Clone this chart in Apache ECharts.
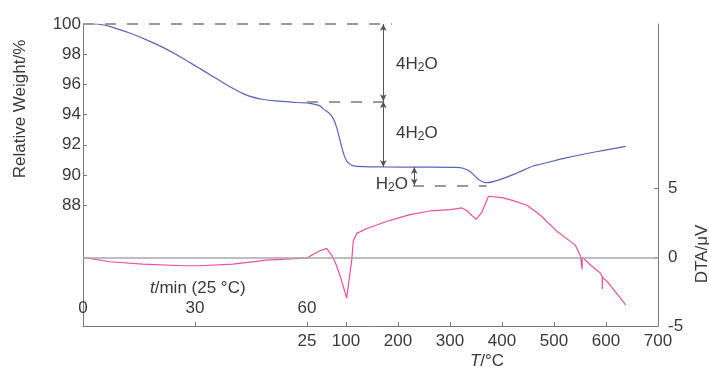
<!DOCTYPE html>
<html>
<head>
<meta charset="utf-8">
<script src="https://cdn.jsdelivr.net/npm/echarts@6/dist/echarts.min.js"></script>
<style>
  html, body { margin: 0; padding: 0; background: #fff; }
  #main { width: 709px; height: 370px; }
</style>
</head>
<body>
<div id="main"></div>
<script>
// isothermal hold at 25 C (t / min)
let holdTime = [0, 3.6, 8, 12.5, 17, 21.4, 25.9, 30.4, 34.9, 39.3, 43.8, 48.3, 52.7, 57.2, 60];
let holdWeight = [100, 100, 99.78, 99.4, 98.95, 98.45, 97.85, 97.18, 96.51, 95.85, 95.29, 95.0, 94.89, 94.8, 94.78];
let holdDtaTime = [0, 7.2, 16, 26.8, 31.3, 40.2, 49.2, 58.1, 60];
let holdDta = [0, -0.32, -0.49, -0.61, -0.61, -0.49, -0.2, -0.07, -0.05];

// heating ramp (T / C)
let rampTemp = [25, 50, 56, 69, 76, 82, 87, 92, 98, 104, 114, 172, 250, 310, 325, 339, 355, 371, 397, 430, 460, 474, 525, 590, 638];
let rampWeight = [94.78, 94.58, 94.38, 94.05, 93.7, 93.15, 92.5, 91.82, 91.15, 90.82, 90.6, 90.53, 90.52, 90.5, 90.45, 90.22, 89.71, 89.49, 89.71, 90.15, 90.6, 90.71, 91.15, 91.6, 91.9];
let rampDtaTemp = [25, 30.6, 49.9, 62.8, 72.4, 78.8, 88.4, 101.3, 111, 114, 120.6, 140, 184.8, 223, 262, 300.6, 323, 332.6, 342, 350.5, 361.5, 374, 377.5, 400, 420, 448, 474, 503, 541, 551, 554, 554, 554.3, 570.2, 589.5, 592.8, 592.8, 593.2, 602.5, 637.8];
let rampDta = [-0.05, 0.09, 0.48, 0.65, 0.17, -0.32, -1.3, -2.97, -0.2, 1.2, 1.75, 2.1, 2.7, 3.11, 3.38, 3.48, 3.6, 3.4, 3.05, 2.78, 3.3, 4.45, 4.5, 4.35, 4.15, 3.8, 3.07, 1.98, 0.89, 0.1, 0.04, -0.87, 0.02, -0.56, -1.16, -1.41, -2.32, -1.45, -1.77, -3.46];

// ticks and labels
let timeTicks = [0, 30, 60];
let tempTicks = [25, 100, 200, 300, 400, 500, 600, 700];
let weightTicks = [88, 90, 92, 94, 96, 98, 100];
let dtaTicks = [-5, 0, 5];

// weight steps marked on the TGA curve
let stepLevels = [100, 94.88, 90.53, 89.31];
let arrowTemp = [171.7, 171.7, 231.3];

function zip(xs, ys) {
  return xs.map((x, i) => [x, ys[i]]);
}

let blue = '#5865bd';
let pink = '#ef4fa0';
let axisColor = '#7a7a7a';
let textColor = '#3a3a3a';
let fs = 17;
let dash = { color: '#9a9a9a', type: [11, 11], width: 2 };
let arrowStyle = { color: '#555', type: 'solid', width: 1 };

function arrow(t, y1, y2) {
  return [
    { coord: [t, y1], symbol: 'arrow', symbolSize: [5, 7], lineStyle: arrowStyle },
    { coord: [t, y2], symbol: 'arrow', symbolSize: [5, 7] }
  ];
}

function formula(pre) {
  return {
    text: '{n|' + pre + 'H}{s|2}{n|O}', fill: textColor, verticalAlign: 'middle',
    rich: {
      n: { fontSize: fs, lineHeight: 20, fontFamily: 'Liberation Sans' },
      s: { fontSize: 12, lineHeight: 20, verticalAlign: 'bottom', fontFamily: 'Liberation Sans' }
    }
  };
}

let myChart = echarts.init(document.getElementById('main'));
let option = {
  animation: false,
  textStyle: { fontFamily: 'Liberation Sans, Arial, sans-serif' },
  grid: { left: 83, right: 51, top: 24, bottom: 44 },
  xAxis: [
    {
      type: 'value', min: 0, max: 154, position: 'bottom',
      axisLine: { show: false, onZero: false },
      axisTick: { inside: true, length: 4, customValues: timeTicks, lineStyle: { color: axisColor } },
      axisLabel: { inside: true, margin: 9, customValues: timeTicks, fontSize: fs, color: textColor },
      splitLine: { show: false }
    },
    {
      type: 'value', min: -405.8, max: 700, position: 'bottom',
      axisLine: { show: true, onZero: false, lineStyle: { color: axisColor } },
      axisTick: { inside: true, length: 4, customValues: tempTicks, lineStyle: { color: axisColor } },
      axisLabel: { margin: 7, customValues: tempTicks, fontSize: fs, color: textColor },
      splitLine: { show: false }
    }
  ],
  yAxis: [
    {
      type: 'value', min: 80, max: 100, position: 'left',
      axisLine: { show: true, onZero: false, lineStyle: { color: axisColor } },
      axisTick: { show: true, inside: true, length: 4, customValues: weightTicks, lineStyle: { color: axisColor } },
      axisLabel: { margin: 2, customValues: weightTicks, fontSize: fs, color: textColor },
      splitLine: { show: false }
    },
    {
      type: 'value', min: -5, max: 17, position: 'right',
      axisLine: { show: true, onZero: false, lineStyle: { color: axisColor } },
      axisTick: { show: true, inside: true, length: 4, customValues: dtaTicks, lineStyle: { color: axisColor } },
      axisLabel: { margin: 10, customValues: dtaTicks, fontSize: fs, color: textColor },
      splitLine: { show: false }
    }
  ],
  series: [
    {
      type: 'line', xAxisIndex: 0, yAxisIndex: 0, showSymbol: false, smooth: 0.3,
      lineStyle: { color: blue, width: 1.2 },
      data: zip(holdTime, holdWeight)
    },
    {
      type: 'line', xAxisIndex: 1, yAxisIndex: 0, showSymbol: false, smooth: 0.3,
      lineStyle: { color: blue, width: 1.2 },
      data: zip(rampTemp, rampWeight),
      markLine: {
        silent: true, symbol: 'none', label: { show: false }, lineStyle: dash,
        data: [
          [{ coord: [-405.8, stepLevels[0]] }, { coord: [188, stepLevels[0]] }],
          [{ coord: [25, stepLevels[1]] }, { coord: [188, stepLevels[1]] }],
          [{ coord: [228.8, stepLevels[3]] }, { coord: [370.6, stepLevels[3]] }],
          arrow(arrowTemp[0], stepLevels[0], stepLevels[1]),
          arrow(arrowTemp[1], stepLevels[1], stepLevels[2]),
          arrow(arrowTemp[2], stepLevels[2], stepLevels[3])
        ]
      }
    },
    {
      type: 'line', xAxisIndex: 0, yAxisIndex: 1, showSymbol: false,
      lineStyle: { color: pink, width: 1.2 },
      data: zip(holdDtaTime, holdDta)
    },
    {
      type: 'line', xAxisIndex: 1, yAxisIndex: 1, showSymbol: false,
      lineStyle: { color: pink, width: 1.2 },
      data: zip(rampDtaTemp, rampDta),
      markLine: {
        silent: true, symbol: 'none', label: { show: false },
        lineStyle: { color: '#a8a8a8', type: 'solid', width: 1.5 },
        data: [{ yAxis: 0 }]
      }
    }
  ],
  graphic: [
    {
      type: 'text', x: 20, y: 109, rotation: Math.PI / 2,
      style: { text: 'Relative Weight/%', font: fs + 'px Liberation Sans', fill: textColor, align: 'center', verticalAlign: 'middle' }
    },
    {
      type: 'text', x: 702, y: 254, rotation: Math.PI / 2,
      style: { text: 'DTA/μV', font: fs + 'px Liberation Sans', fill: textColor, align: 'center', verticalAlign: 'middle' }
    },
    { type: 'text', x: 396, y: 64, style: Object.assign(formula('4'), { align: 'left' }) },
    { type: 'text', x: 396, y: 133, style: Object.assign(formula('4'), { align: 'left' }) },
    { type: 'text', x: 408, y: 184, style: Object.assign(formula(''), { align: 'right' }) },
    {
      type: 'text', x: 150, y: 288,
      style: {
        text: '{i|t}{n|/min (25 °C)}', fill: textColor, align: 'left', verticalAlign: 'middle',
        rich: { i: { fontSize: fs, fontStyle: 'italic', fontFamily: 'Liberation Sans' }, n: { fontSize: fs, fontFamily: 'Liberation Sans' } }
      }
    },
    {
      type: 'text', x: 487, y: 361,
      style: {
        text: '{i|T}{n|/°C}', fill: textColor, align: 'center', verticalAlign: 'middle',
        rich: { i: { fontSize: fs, fontStyle: 'italic', fontFamily: 'Liberation Sans' }, n: { fontSize: fs, fontFamily: 'Liberation Sans' } }
      }
    }
  ]
};
myChart.setOption(option);
</script>
</body>
</html>
